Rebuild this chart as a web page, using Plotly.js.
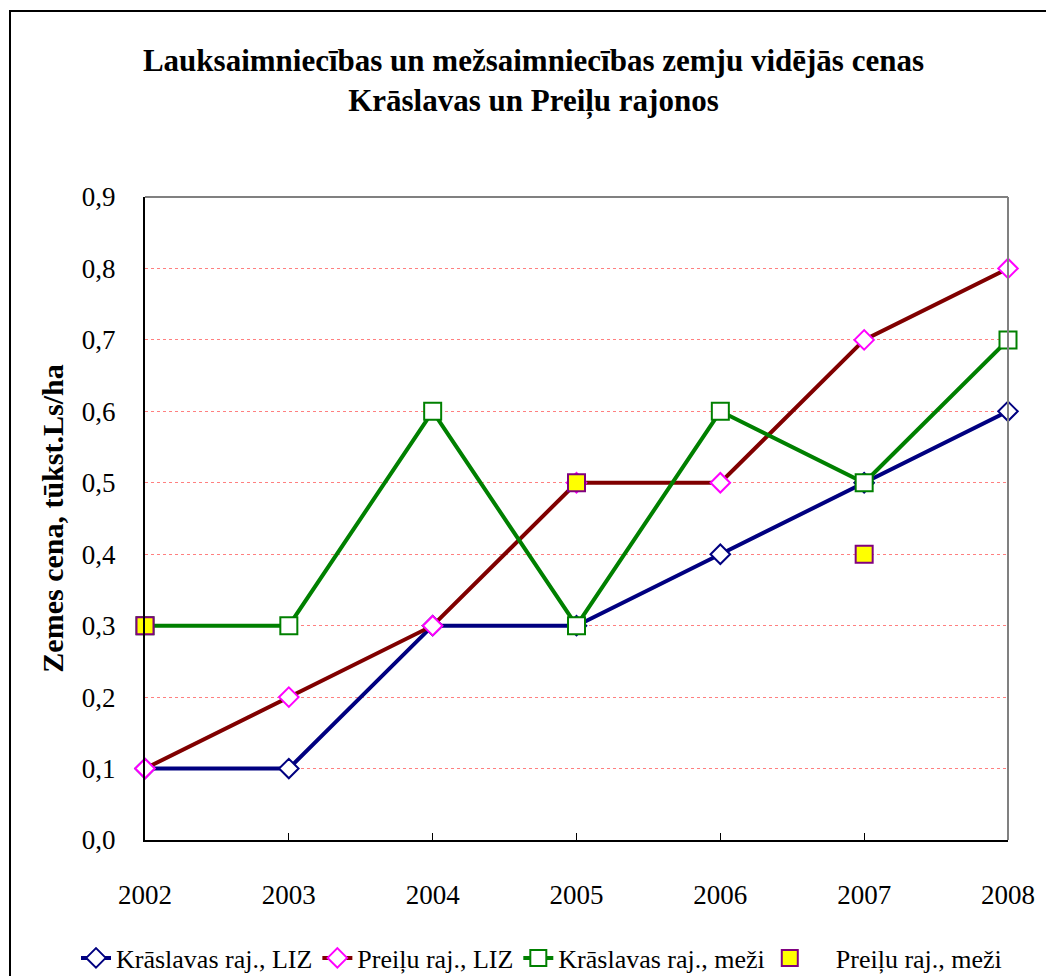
<!DOCTYPE html>
<html>
<head>
<meta charset="utf-8">
<script src="https://cdn.plot.ly/plotly-3.0.1.min.js"></script>
<style>html,body{margin:0;padding:0;background:#fff;}#chart{width:1046px;height:976px;}</style>
</head>
<body>
<div id="chart"></div>
<script>
const years = ['2002', '2003', '2004', '2005', '2006', '2007', '2008'];
const kraslavasLIZ = [0.1, 0.1, 0.3, 0.3, 0.4, 0.5, 0.6];
const preiluLIZ = [0.1, 0.2, 0.3, 0.5, 0.5, 0.7, 0.8];
const kraslavasMezi = [0.3, 0.3, 0.6, 0.3, 0.6, 0.5, 0.7];
const preiluMezi = [0.3, null, null, 0.5, null, 0.4, null];
const seriesNames = ['Krāslavas raj., LIZ', 'Preiļu raj., LIZ', 'Krāslavas raj., meži', '    Preiļu raj., meži'];

const font = 'Liberation Serif, Times New Roman, serif';

const traces = [
  {x: years, y: kraslavasLIZ, name: seriesNames[0], mode: 'lines+markers',
   line: {color: '#000080', width: 4},
   marker: {symbol: 'diamond', size: 15, color: '#ffffff', line: {color: '#000080', width: 2}}},
  {x: years, y: preiluLIZ, name: seriesNames[1], mode: 'lines+markers',
   line: {color: '#800000', width: 4},
   marker: {symbol: 'diamond', size: 15, color: '#ffffff', line: {color: '#ff00ff', width: 2}}},
  {x: years, y: kraslavasMezi, name: seriesNames[2], mode: 'lines+markers',
   line: {color: '#008000', width: 4},
   marker: {symbol: 'square', size: 17, color: '#ffffff', line: {color: '#008000', width: 2}}},
  {x: years, y: preiluMezi, name: seriesNames[3], mode: 'markers',
   marker: {symbol: 'square', size: 17, color: '#ffff00', line: {color: '#800080', width: 2}}}
];
traces.forEach(t => { t.cliponaxis = false; });

const px = v => (v - 145) / 863;
const py = v => (840 - v) / 643;

const layout = {
  width: 1046, height: 976,
  margin: {l: 145, r: 38, t: 197, b: 136, autoexpand: false},
  paper_bgcolor: '#ffffff', plot_bgcolor: '#ffffff',
  separators: ', ',
  font: {family: font, color: '#000000'},
  showlegend: true,
  title: {
    text: '<b>Lauksaimniecības un mežsaimniecības zemju vidējās cenas<br>Krāslavas un Preiļu rajonos</b>',
    font: {family: font, size: 31, color: '#000'},
    x: 0.51, xanchor: 'center', y: 1 - 71 / 976, yanchor: 'middle'
  },
  xaxis: {
    type: 'category', range: [0, 6],
    showgrid: false, zeroline: false,
    showline: true, linecolor: '#000', linewidth: 2,
    ticks: 'inside', ticklen: 7, tickcolor: '#000', tickwidth: 1,
    tickfont: {family: font, size: 27, color: '#000'},
    ticklabelstandoff: 30
  },
  yaxis: {
    range: [0, 0.9], dtick: 0.1, tick0: 0, tickformat: '.1f',
    showgrid: true, gridcolor: '#ff8080', gridwidth: 1, griddash: 'dot',
    zeroline: false,
    showline: true, linecolor: '#000', linewidth: 2,
    ticks: '',
    tickfont: {family: font, size: 27, color: '#000'},
    ticklabelstandoff: 22,
    title: {text: '<b>Zemes cena, tūkst.Ls/ha</b>', font: {family: font, size: 30, color: '#000'}, standoff: 9}
  },
  legend: {
    orientation: 'h', x: px(76), xanchor: 'left', y: py(958), yanchor: 'middle',
    font: {family: font, size: 26, color: '#000'},
    itemwidth: 30, tracegroupgap: 0, bgcolor: 'rgba(0,0,0,0)'
  },
  shapes: [
    {type: 'line', xref: 'paper', yref: 'paper', x0: 0, x1: 1, y0: 1, y1: 1, line: {color: '#808080', width: 2}},
    {type: 'line', xref: 'paper', yref: 'paper', x0: 1, x1: 1, y0: 0, y1: 1, line: {color: '#808080', width: 2}},
    {type: 'rect', xref: 'paper', yref: 'paper', x0: px(10), x1: px(1100), y0: py(1100), y1: py(11), line: {color: '#000', width: 2}, layer: 'below'}
  ]
};

Plotly.newPlot('chart', traces, layout, {displayModeBar: false, staticPlot: true});
</script>
</body>
</html>
